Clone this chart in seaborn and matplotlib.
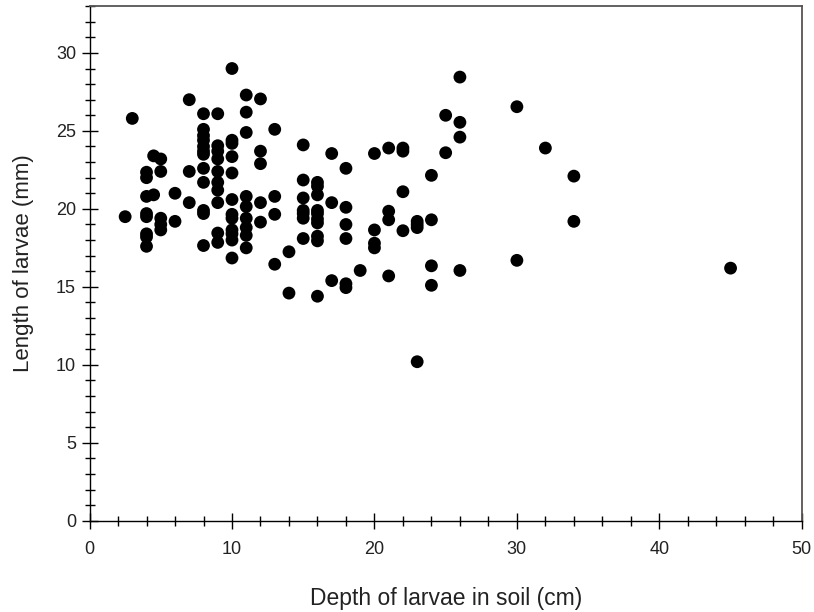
import matplotlib
matplotlib.use("Agg")
import matplotlib.pyplot as plt
import seaborn as sns
import pandas as pd
from matplotlib.ticker import MultipleLocator

# Data: depth (cm) and larval length (mm)
depth_2_5 = [2.5]; len_2_5 = [19.5]
depth_3 = [3]; len_3 = [25.8]
len_at_4 = [22.35, 22.0, 20.8, 19.7, 19.5, 18.4, 18.2, 17.6]
len_at_4_5 = [23.4, 20.9]
len_at_5 = [23.2, 22.4, 19.4, 19.0, 18.65]
len_at_6 = [21.0, 19.2]
len_at_7 = [27.0, 22.4, 20.4]
len_at_8 = [26.1, 25.1, 24.7, 24.4, 24.0, 23.7, 23.5, 22.6, 21.7, 19.9, 19.7, 17.65]
len_at_9 = [26.1, 24.05, 23.7, 23.2, 22.4, 21.7, 21.2, 20.4, 18.45, 17.85]
len_at_10 = [29.0, 24.4, 24.2, 23.35, 22.3, 20.6, 19.65, 19.4, 18.65, 18.4, 18.0, 16.85]
len_at_11 = [27.3, 26.2, 24.9, 20.8, 20.15, 19.4, 18.8, 18.3, 17.5]
len_at_12 = [27.05, 23.7, 22.9, 20.4, 19.15]
len_at_13 = [25.1, 20.8, 19.65, 16.45]
len_at_14 = [17.25, 14.6]
len_at_15 = [24.1, 21.85, 20.7, 19.9, 19.7, 19.4, 18.1]
len_at_16 = [21.7, 21.45, 20.9, 19.9, 19.7, 19.35, 19.1, 18.25, 17.95, 14.4]
len_at_17 = [23.55, 20.4, 15.4]
len_at_18 = [22.6, 20.1, 19.0, 18.1, 15.2, 14.95]
len_at_19 = [16.05]
len_at_20 = [23.55, 18.65, 17.8, 17.5]
len_at_21 = [23.9, 19.85, 19.3, 15.7]
len_at_22 = [23.9, 23.7, 21.1, 18.6]
len_at_23 = [19.2, 19.0, 18.8, 10.2]
len_at_24 = [22.15, 19.3, 16.35, 15.1]
len_at_25 = [26.0, 23.6]
len_at_26 = [28.45, 25.55, 24.6, 16.05]
len_at_30 = [26.55, 16.7]
len_at_32 = [23.9]
len_at_34 = [22.1, 19.2]
len_at_45 = [16.2]

groups = [
    (2.5, len_2_5), (3, len_3), (4, len_at_4), (4.5, len_at_4_5), (5, len_at_5),
    (6, len_at_6), (7, len_at_7), (8, len_at_8), (9, len_at_9), (10, len_at_10),
    (11, len_at_11), (12, len_at_12), (13, len_at_13), (14, len_at_14),
    (15, len_at_15), (16, len_at_16), (17, len_at_17), (18, len_at_18),
    (19, len_at_19), (20, len_at_20), (21, len_at_21), (22, len_at_22),
    (23, len_at_23), (24, len_at_24), (25, len_at_25), (26, len_at_26),
    (30, len_at_30), (32, len_at_32), (34, len_at_34), (45, len_at_45),
]
rows = [(d, v) for d, vals in groups for v in vals]
df = pd.DataFrame(rows, columns=["depth", "length"])

sns.set_theme(style="white")
plt.rcParams['font.family'] = ['Liberation Sans', 'DejaVu Sans']

fig = plt.figure(figsize=(8.14, 6.12), dpi=100)
ax = fig.add_axes([0.110, 0.149, 0.875, 0.841])

sns.scatterplot(data=df, x="depth", y="length", ax=ax, color="black",
                s=85, edgecolor="none", linewidth=0, legend=False)

ax.set_xlim(0, 50)
ax.set_ylim(0, 33)
ax.xaxis.set_major_locator(MultipleLocator(10))
ax.xaxis.set_minor_locator(MultipleLocator(2))
ax.yaxis.set_major_locator(MultipleLocator(5))
ax.yaxis.set_minor_locator(MultipleLocator(1))

ax.tick_params(axis="both", which="major", direction="inout", length=11.5,
               width=1.0, color="black", labelsize=13, labelcolor="#222222")
ax.tick_params(axis="both", which="minor", direction="inout", length=7.2,
               width=1.0, color="black")
ax.tick_params(axis="x", which="major", pad=9)
ax.tick_params(axis="y", which="major", pad=4)
ax.tick_params(left=True, bottom=True, which="both")

for side in ["left", "bottom"]:
    ax.spines[side].set_color("black")
    ax.spines[side].set_linewidth(1.0)
for side in ["top", "right"]:
    ax.spines[side].set_color("#555555")
    ax.spines[side].set_linewidth(1.3)

ax.set_xlabel("Depth of larvae in soil (cm)", fontsize=16.5, color="#222222", labelpad=21)
ax.set_ylabel("Length of larvae (mm)", fontsize=16, color="#222222", labelpad=16)

fig.savefig("out.png", dpi=100)
